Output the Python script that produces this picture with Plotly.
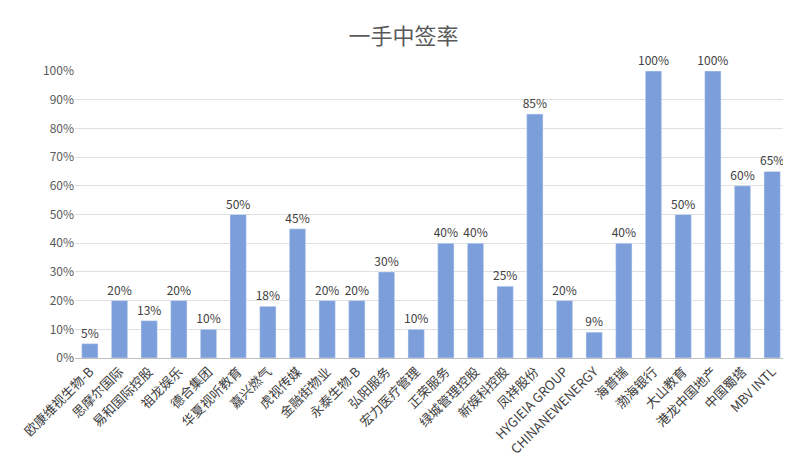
import plotly.graph_objects as go

categories = ["欧康维视生物-B","思摩尔国际","易和国际控股","祖龙娱乐","德合集团","华夏视听教育","嘉兴燃气","虎视传媒","金融街物业","永泰生物-B","弘阳服务","宏力医疗管理","正荣服务","绿城管理控股","新娱科控股","凤祥股份","HYGIEIA GROUP","CHINANEWENERGY","海普瑞","渤海银行","大山教育","港龙中国地产","中国蜀塔","MBV INTL"]
values = [5,20,13,20,10,50,18,45,20,20,30,10,40,40,25,85,20,9,40,100,50,100,60,65]
labels = ["5%","20%","13%","20%","10%","50%","18%","45%","20%","20%","30%","10%","40%","40%","25%","85%","20%","9%","40%","100%","50%","100%","60%","65%"]

fig = go.Figure(go.Bar(x=categories, y=values, text=labels, textposition="outside",
                       marker_color="#7C9FDB", width=0.55, cliponaxis=False,
                       textfont=dict(size=12, color="#404040")))
fig.update_layout(
    width=791, height=468, plot_bgcolor="white", paper_bgcolor="white",
    font=dict(family="Noto Sans CJK SC", size=12, color="#595959"),
    title=dict(text="一手中签率", x=0.5, y=0.955, xanchor="center", font=dict(size=22, color="#595959")),
    margin=dict(l=62, r=12, t=63, b=118),
    showlegend=False,
    uniformtext=dict(minsize=12, mode="show"),
)
fig.update_yaxes(range=[0,100], dtick=10, ticksuffix="%", gridcolor="#E0E0E0", zeroline=False,
                 tickfont=dict(size=12))
fig.update_xaxes(tickangle=-45, showline=True, linecolor="#BFBFBF", tickfont=dict(size=13, color="#404040"))
fig.write_html("out.html")
